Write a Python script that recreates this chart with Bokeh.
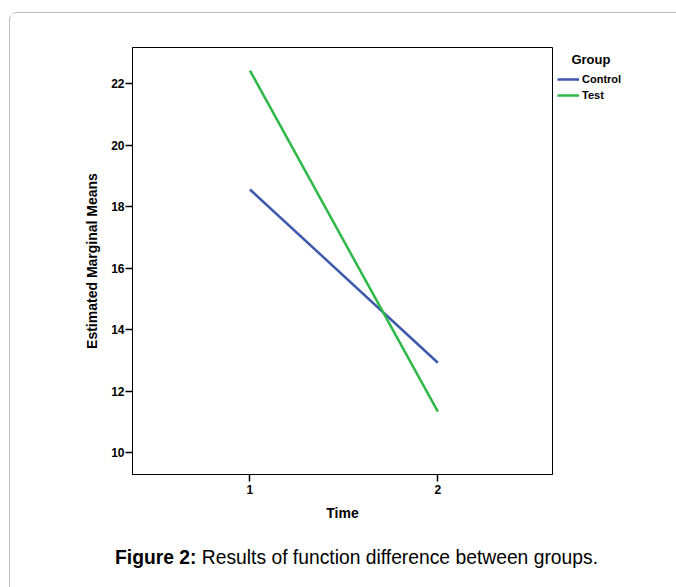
from jinja2 import Template
from bokeh.plotting import figure
from bokeh.models import Range1d, FixedTicker, Legend, LegendItem
from bokeh.embed import file_html
from bokeh.resources import INLINE

# ---- data ----
time_points = [1, 2]
control = [18.56, 12.92]
test = [22.43, 11.33]
y_ticks = [10, 12, 14, 16, 18, 20, 22]
x_ticks = [1, 2]
group_names = ["Control", "Test"]
colors = ["#3E58AC", "#2EB848"]
legend_title = "Group"
caption_bold = "Figure 2:"
caption_text = "Results of function difference between groups."

FONT = "Liberation Sans"

p = figure(frame_width=420, frame_height=427,
           x_range=Range1d(0.375, 2.61), y_range=Range1d(9.284, 23.18),
           output_backend="svg", toolbar_location=None,
           min_border_left=122, min_border_right=0,
           min_border_top=34, min_border_bottom=56)

p.grid.visible = False
p.outline_line_color = "black"
p.outline_line_width = 1

for ax in (p.xaxis, p.yaxis):
    ax.axis_line_color = "black"
    ax.axis_line_width = 1
    ax.major_tick_in = 0
    ax.major_tick_out = 7
    ax.major_tick_line_color = "black"
    ax.major_tick_line_width = 1.5
    ax.minor_tick_line_color = None
    ax.major_label_text_font = FONT
    ax.major_label_text_font_style = "bold"
    ax.major_label_text_font_size = "12px"
    ax.major_label_text_color = "black"
    ax.axis_label_text_font = FONT
    ax.axis_label_text_font_style = "bold"
    ax.axis_label_text_font_size = "14px"
    ax.axis_label_text_color = "black"

p.xaxis.ticker = FixedTicker(ticks=x_ticks)
p.yaxis.ticker = FixedTicker(ticks=y_ticks)
p.xaxis.axis_label = "Time"
p.yaxis.axis_label = "Estimated Marginal Means"
p.xaxis.major_label_standoff = 3
p.yaxis.major_label_standoff = 1
p.xaxis.axis_label_standoff = 8
p.yaxis.axis_label_standoff = 8

r1 = p.line(time_points, control, line_color=colors[0], line_width=2.5)
r2 = p.line(time_points, test, line_color=colors[1], line_width=2.5)

legend = Legend(items=[LegendItem(label=group_names[0], renderers=[r1]),
                       LegendItem(label=group_names[1], renderers=[r2])],
                location="top_left",
                title="\u00a0\u00a0\u00a0\u00a0" + legend_title,
                title_text_font=FONT, title_text_font_style="bold",
                title_text_font_size="13px", title_text_color="black",
                title_standoff=4,
                border_line_alpha=0, background_fill_alpha=0,
                padding=0, margin=5, spacing=0,
                glyph_width=22, glyph_height=16, label_height=16,
                label_standoff=3,
                label_text_font=FONT, label_text_font_style="bold",
                label_text_font_size="11px", label_text_color="black")
p.add_layout(legend, "right")

TEMPLATE = Template("""<!DOCTYPE html>
<html lang="en">
<head>
<meta charset="utf-8">
<title>{{ title if title else "Bokeh Plot" }}</title>
{{ bokeh_css }}
{{ bokeh_js }}
<style>
  html, body { margin: 0; padding: 0; overflow: hidden; background: white; }
  #frame { position: absolute; left: 9px; top: 12px; width: 720px; height: 640px;
           border-left: 1px solid #bcbcbc; border-top: 1px solid #bcbcbc;
           border-top-left-radius: 8px; }
  #caption { position: absolute; left: 115px; top: 547px; white-space: nowrap;
             font-family: 'Liberation Sans', Arial, sans-serif; font-size: 19.3px;
             line-height: 22px; color: black; }
</style>
</head>
<body>
<div id="frame">
{{ plot_div }}
</div>
<div id="caption"><b>{{ cap_bold }}</b> {{ cap_text }}</div>
{{ plot_script }}
</body>
</html>
""")

open("out.html", "w").write(file_html(p, INLINE, template=TEMPLATE,
                                      template_variables={"cap_bold": caption_bold,
                                                          "cap_text": caption_text}))
